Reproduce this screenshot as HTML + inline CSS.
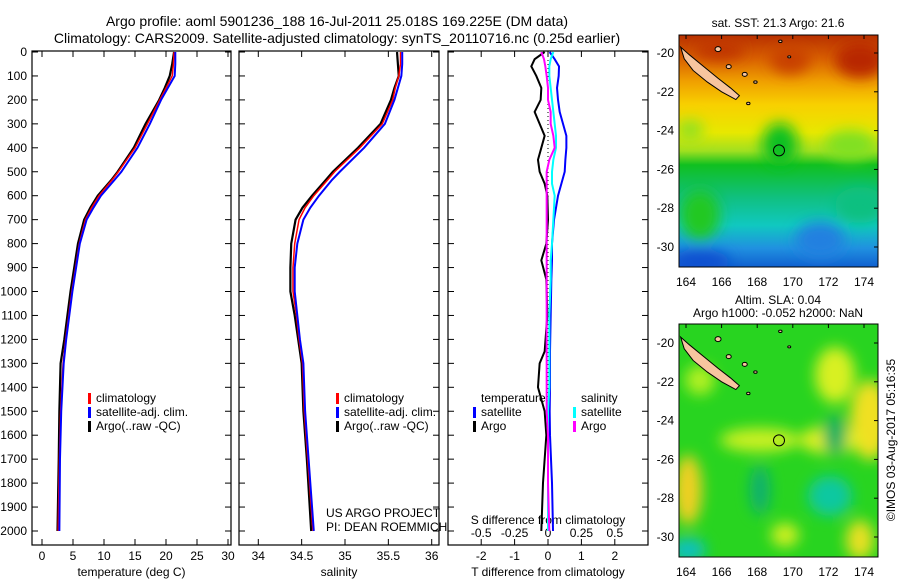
<!DOCTYPE html>
<html><head><meta charset="utf-8">
<style>
body{margin:0;background:#fff;}
svg{display:block;font-family:"Liberation Sans",sans-serif;}
</style></head>
<body>
<svg id="c" width="900" height="580" viewBox="0 0 900 580">
<defs>
<linearGradient id="sst" x1="0" y1="0" x2="0" y2="1">
<stop offset="0" stop-color="#b83000"/><stop offset="0.1" stop-color="#d86000"/>
<stop offset="0.2" stop-color="#f0a000"/><stop offset="0.3" stop-color="#f8d000"/>
<stop offset="0.42" stop-color="#e8e800"/><stop offset="0.5" stop-color="#a0e020"/>
<stop offset="0.56" stop-color="#10c020"/><stop offset="0.7" stop-color="#10c080"/>
<stop offset="0.82" stop-color="#10c8c0"/><stop offset="0.92" stop-color="#2090e0"/>
<stop offset="1" stop-color="#1060d0"/></linearGradient>
<filter id="bl"><feGaussianBlur stdDeviation="7"/></filter>
<clipPath id="m1"><rect x="679" y="35" width="199" height="232"/></clipPath>
<clipPath id="m2"><rect x="679" y="324" width="199" height="233"/></clipPath>
</defs>
<g id="titles" font-size="14">
<text x="337" y="26" text-anchor="middle">Argo profile: aoml 5901236_188 16-Jul-2011 25.018S 169.225E (DM data)</text>
<text x="337" y="43" text-anchor="middle">Climatology: CARS2009. Satellite-adjusted climatology: synTS_20110716.nc (0.25d earlier)</text>
</g>
<g id="panels"></g>
<g>
<text x="778" y="27" font-size="12" text-anchor="middle">sat. SST: 21.3 Argo: 21.6</text>
<g clip-path="url(#m1)">
<rect x="679" y="35" width="199" height="232" fill="url(#sst)"/>
<g filter="url(#bl)">
<ellipse cx="780" cy="145" rx="18" ry="22" fill="#10c020"/>
<ellipse cx="700" cy="215" rx="20" ry="25" fill="#20c820"/>
<ellipse cx="690" cy="130" rx="14" ry="10" fill="#90e020"/>
<ellipse cx="850" cy="145" rx="25" ry="15" fill="#80e020"/>
<ellipse cx="860" cy="60" rx="25" ry="18" fill="#b82800"/>
<ellipse cx="720" cy="50" rx="25" ry="10" fill="#c03400"/>
<ellipse cx="790" cy="60" rx="20" ry="14" fill="#c84000"/>
<ellipse cx="820" cy="240" rx="25" ry="18" fill="#2080e0"/>
<ellipse cx="700" cy="262" rx="30" ry="12" fill="#1050d0"/>
<ellipse cx="860" cy="205" rx="25" ry="18" fill="#10c080"/>
</g></g>
<rect x="679" y="35" width="199" height="232" fill="none" stroke="#000"/>
</g>
<g>
<text x="778" y="304" font-size="12" text-anchor="middle">Altim. SLA: 0.04</text>
<text x="778" y="317" font-size="12" text-anchor="middle">Argo h1000: -0.052 h2000: NaN</text>
<g clip-path="url(#m2)">
<rect x="679" y="324" width="199" height="233" fill="#28d420"/>
<g filter="url(#bl)">
<ellipse cx="835" cy="375" rx="20" ry="28" fill="#d8f020"/>
<ellipse cx="870" cy="420" rx="20" ry="40" fill="#f0e020"/>
<ellipse cx="830" cy="440" rx="30" ry="14" fill="#e0f020"/>
<ellipse cx="760" cy="440" rx="40" ry="12" fill="#c8f020"/>
<ellipse cx="688" cy="490" rx="14" ry="35" fill="#f0d020"/>
<ellipse cx="830" cy="496" rx="22" ry="20" fill="#10c8a0"/>
<ellipse cx="835" cy="435" rx="12" ry="20" fill="#10b060"/>
<ellipse cx="688" cy="550" rx="18" ry="12" fill="#10c0c0"/>
<ellipse cx="860" cy="540" rx="14" ry="20" fill="#e8e020"/>
<ellipse cx="785" cy="535" rx="14" ry="12" fill="#d0f020"/>
<ellipse cx="760" cy="490" rx="10" ry="25" fill="#10b070"/>
<ellipse cx="700" cy="380" rx="15" ry="15" fill="#b0f020"/>
</g></g>
<rect x="679" y="324" width="199" height="233" fill="none" stroke="#000"/>
<text transform="translate(895,440) rotate(-90)" font-size="12" text-anchor="middle">©IMOS 03-Aug-2017 05:16:35</text>
</g>
<g id="maps-ov"></g>
</svg>
<script>
// ---------- profile data ----------
const depths = [0,50,100,150,200,300,400,500,534,600,650,700,800,900,1000,1100,1200,1300,1500,1700,2000];
const tempClim = [21.3,21.2,21.0,20.0,19.0,17.0,15.0,12.3,11.3,9.2,8.0,7.0,6.0,5.4,4.8,4.3,3.8,3.4,3.0,2.8,2.6];
const tempSat  = [21.5,21.5,21.4,20.3,19.2,17.4,15.4,12.8,11.7,9.5,8.3,7.2,6.1,5.5,4.9,4.4,3.9,3.5,3.1,2.9,2.8];
const tempArgo = [21.3,21.0,20.6,19.8,18.9,16.7,14.8,12.2,11.2,9.0,7.8,6.8,5.8,5.2,4.6,4.1,3.6,3.0,2.8,2.7,2.5];
const salClim = [35.64,35.64,35.62,35.58,35.55,35.43,35.17,34.88,34.80,34.64,34.54,34.47,34.42,34.40,34.40,34.44,34.47,34.51,34.53,34.57,34.63];
const salSat  = [35.66,35.66,35.65,35.61,35.57,35.46,35.22,34.94,34.85,34.70,34.60,34.52,34.45,34.42,34.42,34.45,34.48,34.52,34.54,34.58,34.64];
const salArgo = [35.60,35.61,35.62,35.57,35.53,35.41,35.15,34.86,34.78,34.62,34.51,34.43,34.38,34.37,34.37,34.42,34.46,34.50,34.52,34.56,34.61];
const diffDepths = [0,30,60,100,150,200,250,300,350,400,450,500,550,600,700,800,870,950,1100,1250,1300,1400,1500,1600,1800,2000];
const dTsat  = [0.05,0.2,0.33,0.32,0.27,0.3,0.35,0.45,0.55,0.55,0.52,0.5,0.4,0.3,0.18,0.12,0.12,0.1,0.08,0.06,0.06,0.06,0.05,0.06,0.12,0.15];
const dTargo = [-0.1,-0.4,-0.5,-0.35,-0.2,-0.22,-0.4,-0.25,-0.1,-0.2,-0.3,-0.25,-0.1,-0.02,0.0,-0.05,-0.2,-0.05,-0.02,-0.1,-0.25,-0.3,-0.1,-0.05,-0.15,-0.2];
const dSsat  = [0.04,0.02,0.01,0.01,0.02,0.03,0.04,0.05,0.06,0.06,0.04,0.03,0.03,0.05,0.04,0.03,0.02,0.02,0.01,0.01,0.01,0.01,0.0,0.0,0.0,0.0];
const dSargo = [-0.05,-0.03,-0.02,-0.01,0.0,0.0,0.02,0.02,0.04,0.05,0.01,-0.01,-0.01,-0.01,-0.01,-0.01,-0.01,-0.01,-0.01,-0.01,-0.01,-0.01,-0.01,0.0,0.0,0.01];
const depthTicks = [0,100,200,300,400,500,600,700,800,900,1000,1100,1200,1300,1400,1500,1600,1700,1800,1900,2000];
const tTicks = [0,5,10,15,20,25,30];
const sTicks = [34,34.5,35,35.5,36];
const dtTicks = [-2,-1,0,1,2];
const dsTicks = [-0.5,-0.25,0,0.25,0.5];
const dsTickLabels = ["-0.5","-0.25","0","0.25","0.5"];

const NS='http://www.w3.org/2000/svg';
const yD = d => 52 + d*0.2395;
const xT = v => 42 + v*6.2;
const xS = v => 258.3 + (v-34)*86.7;
const xDT = v => 548 + v*33.4;
const xDS = v => 548 + v*133.6;
const root = document.getElementById('panels');
function el(tag, attrs, parent, txt){
  const e=document.createElementNS(NS,tag);
  for(const k in attrs) e.setAttribute(k,attrs[k]);
  if(txt!==undefined) e.textContent=txt;
  (parent||root).appendChild(e); return e;
}
function panel(name, x0, x1, xs, ticks, labels, xlabel){
  const g=el('g',{});
  
  
  el('rect',{x:x0,y:51,width:x1-x0,height:494,fill:'none',stroke:'#000','stroke-width':1.2},g);
  depthTicks.forEach(d=>{
    const y=yD(d);
    el('line',{x1:x0,x2:x0+6,y1:y,y2:y,stroke:'#000'},g);
    el('line',{x1:x1-6,x2:x1,y1:y,y2:y,stroke:'#000'},g);
  });
  ticks.forEach((t,i)=>{
    const x=xs(t);
    el('line',{x1:x,x2:x,y1:51,y2:57,stroke:'#000'},g);
    el('line',{x1:x,x2:x,y1:539,y2:545,stroke:'#000'},g);
    if(labels){
      const tx=el('text',{x:x,y:560,'font-size':12,'text-anchor':'middle'},g,labels[i]);
      
      
    }
  });
  const xl=el('text',{x:(x0+x1)/2,y:576,'font-size':12,'text-anchor':'middle'},g,xlabel);
  
  
  return g;
}
function line(g, dep, vals, xs, color, w, name){
  const p=el('polyline',{points:vals.map((v,i)=>xs(v)+','+yD(dep[i])).join(' '),fill:'none',stroke:color,'stroke-width':w},g);
  
  
}
function legend(g, x, y, items){
  items.forEach((it,i)=>{
    el('rect',{x:x,y:y+i*14-9,width:3,height:11,fill:it[1]},g);
    const t=el('text',{x:x+8,y:y+i*14,'font-size':12},g,it[0]);
    
    
  });
}
depthTicks.forEach(d=>{
  const t=el('text',{x:27,y:yD(d)+4,'font-size':12,'text-anchor':'end'},root,String(d));
  
  
});
const g1=panel('temperature-panel',32,231,xT,tTicks,tTicks.map(String),'temperature (deg C)');
line(g1,depths,tempArgo,xT,'#000',2.2,'temp-argo-line');
line(g1,depths,tempClim,xT,'#f00',1.5,'temp-climatology-line');
line(g1,depths,tempSat,xT,'#00f',2,'temp-satellite-line');
legend(g1,88,402,[['climatology','#f00'],['satellite-adj. clim.','#00f'],['Argo(..raw -QC)','#000']]);

const g2=panel('salinity-panel',239,439,xS,sTicks,sTicks.map(String),'salinity');
line(g2,depths,salArgo,xS,'#000',2.2,'sal-argo-line');
line(g2,depths,salClim,xS,'#f00',1.5,'sal-climatology-line');
line(g2,depths,salSat,xS,'#00f',2,'sal-satellite-line');
legend(g2,336,402,[['climatology','#f00'],['satellite-adj. clim.','#00f'],['Argo(..raw -QC)','#000']]);
el('text',{x:326,y:517,'font-size':12},g2,'US ARGO PROJECT');
el('text',{x:326,y:531,'font-size':12},g2,'PI: DEAN ROEMMICH');

const g3=panel('difference-panel',448,648,xDT,dtTicks,dtTicks.map(String),'T difference from climatology');
dsTicks.forEach((t,i)=>{
  const tx=el('text',{x:xDS(t),y:537,'font-size':12,'text-anchor':'middle'},g3,dsTickLabels[i]);
  
  
});
el('text',{x:548,y:524,'font-size':12,'text-anchor':'middle'},g3,'S difference from climatology');
el('line',{x1:548,x2:548,y1:52,y2:531,stroke:'#000','stroke-dasharray':'1,3'},g3);
line(g3,diffDepths,dTargo,xDT,'#000',2,'dT-argo-line');
line(g3,diffDepths,dTsat,xDT,'#00f',2,'dT-satellite-line');
line(g3,diffDepths,dSsat,xDS,'#0ff',2,'dS-satellite-line');
line(g3,diffDepths,dSargo,xDS,'#f0f',2,'dS-argo-line');
el('text',{x:481,y:402,'font-size':12},g3,'temperature');
legend(g3,473,416,[['satellite','#00f'],['Argo','#000']]);
el('text',{x:581,y:402,'font-size':12},g3,'salinity');
legend(g3,573,416,[['satellite','#0ff'],['Argo','#f0f']]);

// ---------- map overlays ----------
const ov=document.getElementById('maps-ov');
const lonTicks=[164,166,168,170,172,174];
const latTicks=[-20,-22,-24,-26,-28,-30];
const nc=[[163.7,-19.7],[164.2,-20.1],[165.0,-20.7],[165.8,-21.3],[166.5,-21.8],[167.0,-22.2],[166.8,-22.4],[166.0,-22.0],[165.2,-21.5],[164.4,-20.9],[163.9,-20.3]];
function map(name, y0, y20){
  const X=lon=>686+(lon-164)*17.8, Y=lat=>y20+(-20-lat)*19.4;
  const g=el('g',{},ov);
  
  
  el('polygon',{points:nc.map(p=>X(p[0])+','+Y(p[1])).join(' '),fill:'#f7c59f',stroke:'#000','stroke-width':1},g);
  [[165.8,-19.8,2.5],[166.4,-20.7,2],[167.3,-21.1,2],[167.9,-21.5,1.2],[167.5,-22.6,1.2],[169.3,-19.4,1.2],[169.8,-20.2,1]].forEach(p=>
    el('ellipse',{cx:X(p[0]),cy:Y(p[1]),rx:p[2]+0.5,ry:p[2],fill:'#f7c59f',stroke:'#000'},g));
  el('circle',{cx:X(169.225),cy:Y(-25.018),r:5.5,fill:'none',stroke:'#000'},g);
  lonTicks.forEach(l=>{
    el('line',{x1:X(l),x2:X(l),y1:y0,y2:y0+4,stroke:'#000'},g);
    const t=el('text',{x:X(l),y:y0+(name==='sst-map'?251:252),'font-size':12,'text-anchor':'middle'},g,String(l));
    
    
  });
  latTicks.forEach(l=>{
    el('line',{x1:874,x2:878,y1:Y(l),y2:Y(l),stroke:'#000'},g);
    const t=el('text',{x:674,y:Y(l)+4,'font-size':12,'text-anchor':'end'},g,String(l));
    
    
  });
}
map('sst-map',35,53);
map('sla-map',324,343);
</script>
</body></html>
